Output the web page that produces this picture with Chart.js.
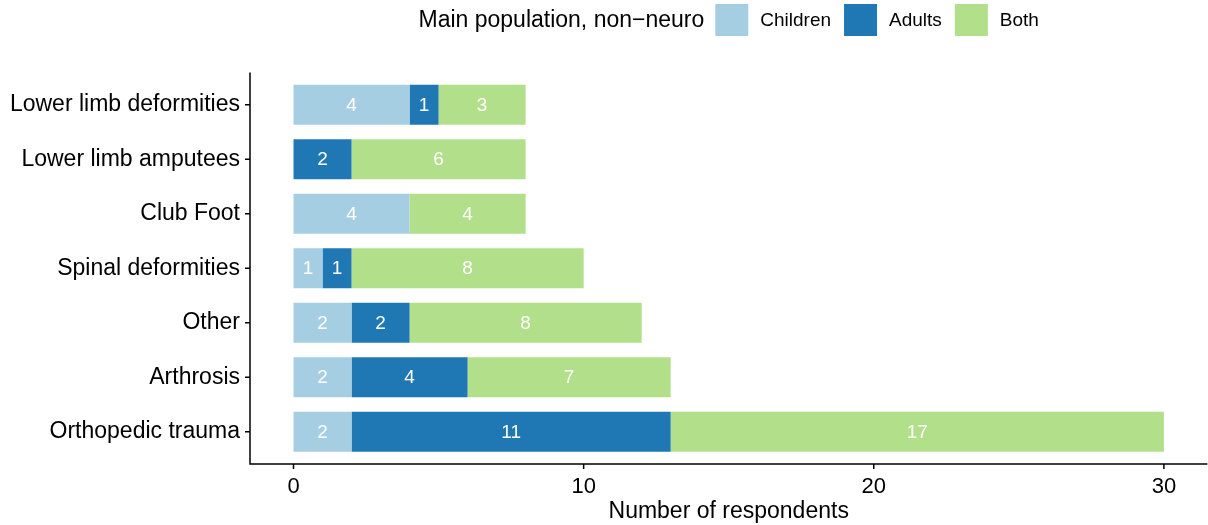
<!DOCTYPE html>
<html>
<head>
<meta charset="utf-8">
<script src="https://cdn.jsdelivr.net/npm/chart.js@4"></script>
<style>
  html, body { margin: 0; padding: 0; background: #fff; }
  #wrap { width: 1208px; height: 525px; }
</style>
</head>
<body>
<div id="wrap"><canvas id="chart" width="1208" height="525"></canvas></div>
<script>
const categories = ['Lower limb deformities', 'Lower limb amputees', 'Club Foot', 'Spinal deformities', 'Other', 'Arthrosis', 'Orthopedic trauma'];
const children = [4, 0, 4, 1, 2, 2, 2];
const adults = [1, 2, 0, 1, 2, 4, 11];
const both = [3, 6, 4, 8, 8, 7, 17];
const xTicks = [0, 10, 20, 30];
const legendTitle = 'Main population, non\u2212neuro';
const seriesNames = ['Children', 'Adults', 'Both'];
const seriesColors = ['#a6cee3', '#1f78b4', '#b2df8a'];

const FONT = '"Liberation Sans", Arial, sans-serif';

// ggplot style axis lines + ticks
const axesPlugin = {
  id: 'axes',
  afterDraw(chart) {
    const { ctx, chartArea } = chart;
    const xs = chart.scales.x, ys = chart.scales.y;
    const step = (chartArea.bottom - chartArea.top) / categories.length;
    const extra = step * 0.09;
    const x0 = chartArea.left, yb = chartArea.bottom + extra;
    ctx.save();
    ctx.strokeStyle = '#000';
    ctx.lineWidth = 1.5;
    ctx.beginPath();
    ctx.moveTo(x0, chartArea.top - extra);
    ctx.lineTo(x0, yb);
    ctx.lineTo(chartArea.right, yb);
    categories.forEach((c, i) => {
      const y = ys.getPixelForValue(i);
      ctx.moveTo(x0 - 5, y);
      ctx.lineTo(x0, y);
    });
    xTicks.forEach(v => {
      const x = xs.getPixelForValue(v);
      ctx.moveTo(x, yb);
      ctx.lineTo(x, yb + 5);
    });
    ctx.stroke();
    ctx.restore();
  }
};

const barLabels = {
  id: 'barLabels',
  afterDatasetsDraw(chart) {
    const { ctx } = chart;
    ctx.save();
    ctx.fillStyle = '#fff';
    ctx.font = '19px ' + FONT;
    ctx.textAlign = 'center';
    ctx.textBaseline = 'middle';
    chart.data.datasets.forEach((ds, di) => {
      chart.getDatasetMeta(di).data.forEach((el, i) => {
        const v = ds.data[i];
        if (!v) return;
        ctx.fillText(String(v), (el.x + el.base) / 2, el.y + 1);
      });
    });
    ctx.restore();
  }
};

const topLegend = {
  id: 'topLegend',
  afterDraw(chart) {
    const { ctx, chartArea } = chart;
    ctx.save();
    ctx.textBaseline = 'middle';
    ctx.textAlign = 'left';
    ctx.font = '23px ' + FONT;
    const tw = ctx.measureText(legendTitle).width;
    ctx.font = '19px ' + FONT;
    const lw = seriesNames.map(n => ctx.measureText(n).width);
    const box = 33, gapTitle = 11, gapText = 12, gapItem = 13;
    let total = tw + gapTitle;
    lw.forEach((w, i) => { total += box + gapText + w + (i < lw.length - 1 ? gapItem : 0); });
    let x = (chartArea.left + chartArea.right) / 2 - total / 2;
    const cy = 20;
    ctx.fillStyle = '#000';
    ctx.font = '23px ' + FONT;
    ctx.fillText(legendTitle, x, cy + 1);
    x += tw + gapTitle;
    ctx.font = '19px ' + FONT;
    seriesNames.forEach((n, i) => {
      ctx.fillStyle = seriesColors[i];
      ctx.fillRect(x, 4, box, 32);
      x += box + gapText;
      ctx.fillStyle = '#000';
      ctx.fillText(n, x, cy + 1);
      x += lw[i] + gapItem;
    });
    ctx.restore();
  }
};

const seriesData = [children, adults, both];

new Chart(document.getElementById('chart'), {
  type: 'bar',
  data: {
    labels: categories,
    datasets: seriesNames.map((n, i) => ({
      label: n,
      data: seriesData[i],
      backgroundColor: seriesColors[i],
      borderWidth: 0,
      barPercentage: 0.73,
      categoryPercentage: 1
    }))
  },
  options: {
    indexAxis: 'y',
    responsive: false,
    animation: false,
    devicePixelRatio: 1,
    layout: { padding: { top: 77.5, right: 0.6, bottom: 0, left: 0 } },
    plugins: { legend: { display: false }, tooltip: { enabled: false } },
    scales: {
      x: {
        type: 'linear',
        stacked: true,
        min: -1.5,
        max: 31.5,
        grid: { display: false, drawTicks: false },
        border: { display: false },
        afterBuildTicks(scale) { scale.ticks = xTicks.map(v => ({ value: v })); },
        afterFit(scale) { scale.height = 66; },
        ticks: { color: '#000', font: { family: FONT, size: 22 }, padding: 15, maxRotation: 0 },
        title: { display: true, text: 'Number of respondents', color: '#000', font: { family: FONT, size: 23 }, padding: { top: 0, bottom: 0 } }
      },
      y: {
        stacked: true,
        grid: { display: false, drawTicks: false },
        border: { display: false },
        afterFit(scale) { scale.width = 250; },
        ticks: { color: '#000', font: { family: FONT, size: 23 }, padding: 10 }
      }
    }
  },
  plugins: [axesPlugin, barLabels, topLegend]
});
</script>
</body>
</html>
